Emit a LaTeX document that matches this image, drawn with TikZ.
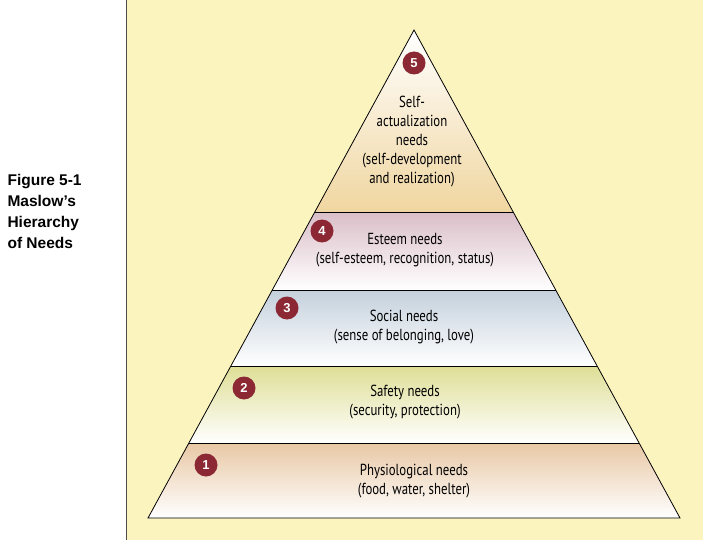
\documentclass[tikz,border=0pt]{standalone}
\usepackage{fontspec}
\setmainfont{Liberation Sans}
\newfontfamily\cond{PT Sans}[FakeStretch=0.8]
\begin{document}
\begin{tikzpicture}[x=1pt,y=-1pt,
  num/.style={circle,fill=numred,text=white,font=\bfseries\fontsize{13}{13}\selectfont,minimum size=23pt,inner sep=0pt},
  lbl/.style={align=center,font=\cond\fontsize{16}{19}\selectfont,text=black},
  captext/.style={align=left,anchor=north west,font=\bfseries\fontsize{15.5}{21}\selectfont}]
\definecolor{numred}{HTML}{8B2833}
\definecolor{panel}{HTML}{FBF4BE}
\useasboundingbox (0,0) rectangle (720,540);
\fill[white] (0,0) rectangle (720,540);
\fill[panel] (126,0) rectangle (703,540);
\draw[black!70,line width=1pt] (126,0) -- (126,540);
\def\L#1{414-0.5451*(#1-30)}
\def\R#1{414+0.5451*(#1-30)}
\shade[top color=white,bottom color={rgb,255:red,240;green,214;blue,160}] (414,30) -- ({\R{212}},212) -- ({\L{212}},212) -- cycle;
\shade[top color={rgb,255:red,218;green,190;blue,200},bottom color=white] ({\L{212}},212) -- ({\R{212}},212) -- ({\R{290}},290) -- ({\L{290}},290) -- cycle;
\shade[top color={rgb,255:red,196;green,208;blue,220},bottom color=white] ({\L{290}},290) -- ({\R{290}},290) -- ({\R{366}},366) -- ({\L{366}},366) -- cycle;
\shade[top color={rgb,255:red,222;green,222;blue,150},bottom color=white] ({\L{366}},366) -- ({\R{366}},366) -- ({\R{443}},443) -- ({\L{443}},443) -- cycle;
\shade[top color={rgb,255:red,232;green,200;blue,165},bottom color=white] ({\L{443}},443) -- ({\R{443}},443) -- (680,518) -- (148,518) -- cycle;
\draw[black,line width=0.8pt] (414,30) -- (680,518) -- (148,518) -- cycle;
\foreach \y in {212,290,366,443} \draw[black,line width=0.8pt] ({\L{\y}},\y) -- ({\R{\y}},\y);
\node[num] (n5) at (414,63) {5};
\node[num] (n4) at (322,231) {4};
\node[num] (n3) at (287,308) {3};
\node[num] (n2) at (244,388) {2};
\node[num] (n1) at (206,465) {1};
\node[lbl] (t5) at (412,142) {Self-\\actualization\\needs\\(self-development\\and realization)};
\node[lbl] (t4) at (405,250) {Esteem needs\\(self-esteem, recognition, status)};
\node[lbl] (t3) at (404,327) {Social needs\\(sense of belonging, love)};
\node[lbl] (t2) at (405,402) {Safety needs\\(security, protection)};
\node[lbl] (t1) at (414,481) {Physiological needs\\(food, water, shelter)};
\node[captext] (cp) at (4,171) {Figure 5-1\\Maslow’s\\Hierarchy\\of Needs};
\end{tikzpicture}
\end{document}
